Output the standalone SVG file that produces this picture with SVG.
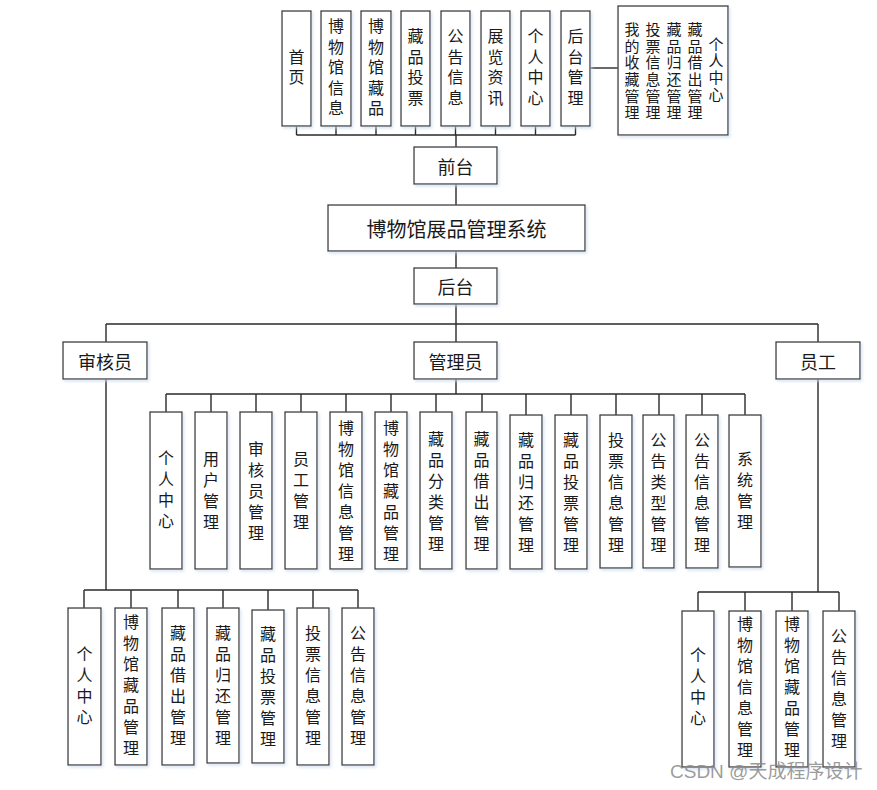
<svg xmlns="http://www.w3.org/2000/svg" width="877" height="790" viewBox="0 0 877 790">
<defs>
<filter id="sh" x="-20%" y="-10%" width="140%" height="120%">
<feDropShadow dx="1.5" dy="2" stdDeviation="1.5" flood-color="#c9d9ee" flood-opacity="0.7"/>
</filter>
<style>
.b{fill:#fff;stroke:#3c3c3c;stroke-width:1.3;filter:url(#sh)}
.t{font-family:"Noto Sans CJK SC","Liberation Sans",sans-serif;fill:#1a1a1a;text-anchor:middle;dominant-baseline:central}
.v{font-size:16px;writing-mode:vertical-rl;letter-spacing:5px}
.v2{font-size:16px;writing-mode:vertical-rl;letter-spacing:4.5px}
.s{font-size:15px;writing-mode:vertical-rl;letter-spacing:1.7px}
.h{font-size:18px}
.c{fill:none;stroke:#2a2a2a;stroke-width:1.4}
.wm{font-family:"Liberation Sans","Noto Sans CJK SC",sans-serif;font-size:19px;fill:#8a8a8a;fill-opacity:0.85}
</style>
</defs>
<rect width="877" height="790" fill="#fff"/>

<g id="connectors">
<path class="c" d="M296.5,126V135M336,126V135M376,126V135M415.5,126V135M455.5,126V135M495.5,126V135M535.5,126V135M575.5,126V135M296.5,135H575.5M456,135V147"/>
<path class="c" d="M590,68H618"/>
<path class="c" d="M456,184V205M456,251V268M456,304V342M106,324H818M106,324V342M818,324V342"/>
<path class="c" d="M456,379V394M166,394H745M166,394V412M211,394V412M256,394V412M301,394V412M346,394V412M391,394V412M436,394V412M482,394V412M526,394V415M571,394V415M616,394V415M659,394V415M702,394V415M745,394V415"/>
<path class="c" d="M106,379V590M84,590H358M84,590V608M131,590V608M178,590V608M223,590V608M268,590V610M313,590V608M358,590V608"/>
<path class="c" d="M818,379V592M698,592H839M698,592V611M745,592V611M792,592V611M839,592V611"/>
</g>

<!-- top row -->
<g id="n-shouye"><rect class="b" x="282" y="11" width="29" height="115"/><text class="t v2" x="296.5" y="69.2">首页</text></g>
<g id="n-bwgxx"><rect class="b" x="321" y="11" width="30" height="115"/><text class="t v2" x="336" y="69.2">博物馆信息</text></g>
<g id="n-bwgcp"><rect class="b" x="361" y="11" width="30" height="115"/><text class="t v2" x="376" y="69.2">博物馆藏品</text></g>
<g id="n-cptp"><rect class="b" x="401" y="11" width="29" height="115"/><text class="t v2" x="415.5" y="69.2">藏品投票</text></g>
<g id="n-ggxx"><rect class="b" x="441" y="11" width="29" height="115"/><text class="t v2" x="455.5" y="69.2">公告信息</text></g>
<g id="n-zlzx"><rect class="b" x="481" y="11" width="29" height="115"/><text class="t v2" x="495.5" y="69.2">展览资讯</text></g>
<g id="n-grzx"><rect class="b" x="521" y="11" width="29" height="115"/><text class="t v2" x="535.5" y="69.2">个人中心</text></g>
<g id="n-htgl"><rect class="b" x="561" y="11" width="29" height="115"/><text class="t v2" x="575.5" y="69.2">后台管理</text></g>

<g id="n-grzx-detail"><rect class="b" x="618" y="6" width="110" height="129"/>
<text class="t s" x="632" y="71.8">我的收藏管理</text>
<text class="t s" x="653" y="71.8">投票信息管理</text>
<text class="t s" x="674" y="71.8">藏品归还管理</text>
<text class="t s" x="695" y="71.8">藏品借出管理</text>
<text class="t s" x="716" y="69.8">个人中心</text>
</g>

<g id="n-qiantai"><rect class="b" x="414" y="147" width="83" height="37"/><text class="t h" x="455.5" y="165.5">前台</text></g>
<g id="n-system"><rect class="b" x="328" y="205" width="257" height="46"/><text class="t" style="font-size:20px" x="456.5" y="228">博物馆展品管理系统</text></g>
<g id="n-houtai"><rect class="b" x="414" y="268" width="83" height="36"/><text class="t h" x="455.5" y="286">后台</text></g>

<g id="n-shenheyuan"><rect class="b" x="63" y="342" width="84" height="37"/><text class="t h" x="105" y="360.5">审核员</text></g>
<g id="n-guanliyuan"><rect class="b" x="414" y="342" width="83" height="37"/><text class="t h" x="455.5" y="360.5">管理员</text></g>
<g id="n-yuangong"><rect class="b" x="776" y="342" width="84" height="37"/><text class="t h" x="818" y="360.5">员工</text></g>

<!-- admin row -->
<g id="a1"><rect class="b" x="150" y="412" width="32" height="157"/><text class="t v" x="166" y="492">个人中心</text></g>
<g id="a2"><rect class="b" x="195" y="412" width="32" height="157"/><text class="t v" x="211" y="493">用户管理</text></g>
<g id="a3"><rect class="b" x="240" y="412" width="32" height="157"/><text class="t v" x="256" y="493">审核员管理</text></g>
<g id="a4"><rect class="b" x="285" y="412" width="32" height="157"/><text class="t v" x="301" y="493">员工管理</text></g>
<g id="a5"><rect class="b" x="330" y="412" width="32" height="157"/><text class="t v" x="346" y="493.5">博物馆信息管理</text></g>
<g id="a6"><rect class="b" x="375" y="412" width="32" height="157"/><text class="t v" x="391" y="493.5">博物馆藏品管理</text></g>
<g id="a7"><rect class="b" x="420" y="412" width="32" height="157"/><text class="t v" x="436" y="493.5">藏品分类管理</text></g>
<g id="a8"><rect class="b" x="466" y="412" width="31" height="157"/><text class="t v" x="481.5" y="493.5">藏品借出管理</text></g>
<g id="a9"><rect class="b" x="510" y="415" width="32" height="154"/><text class="t v" x="526" y="495">藏品归还管理</text></g>
<g id="a10"><rect class="b" x="555" y="415" width="32" height="154"/><text class="t v" x="571" y="495">藏品投票管理</text></g>
<g id="a11"><rect class="b" x="600" y="415" width="32" height="153"/><text class="t v" x="616" y="495">投票信息管理</text></g>
<g id="a12"><rect class="b" x="643" y="415" width="31" height="153"/><text class="t v" x="658.5" y="495">公告类型管理</text></g>
<g id="a13"><rect class="b" x="686" y="415" width="32" height="153"/><text class="t v" x="702" y="495">公告信息管理</text></g>
<g id="a14"><rect class="b" x="729" y="415" width="32" height="152"/><text class="t v" x="745" y="493">系统管理</text></g>

<!-- reviewer group -->
<g id="r1"><rect class="b" x="68" y="608" width="33" height="157"/><text class="t v" x="84.5" y="688">个人中心</text></g>
<g id="r2"><rect class="b" x="115" y="608" width="32" height="157"/><text class="t v" x="131" y="687.5">博物馆藏品管理</text></g>
<g id="r3"><rect class="b" x="162" y="608" width="32" height="157"/><text class="t v" x="178" y="687.5">藏品借出管理</text></g>
<g id="r4"><rect class="b" x="207" y="608" width="32" height="155"/><text class="t v" x="223" y="687.5">藏品归还管理</text></g>
<g id="r5"><rect class="b" x="252" y="610" width="32" height="153"/><text class="t v" x="268" y="688.5">藏品投票管理</text></g>
<g id="r6"><rect class="b" x="297" y="608" width="32" height="157"/><text class="t v" x="313" y="688">投票信息管理</text></g>
<g id="r7"><rect class="b" x="342" y="608" width="32" height="157"/><text class="t v" x="358" y="688">公告信息管理</text></g>

<!-- staff group -->
<g id="s1"><rect class="b" x="682" y="611" width="32" height="156"/><text class="t v" x="698" y="689">个人中心</text></g>
<g id="s2"><rect class="b" x="729" y="611" width="32" height="156"/><text class="t v" x="745" y="689.5">博物馆信息管理</text></g>
<g id="s3"><rect class="b" x="776" y="611" width="32" height="156"/><text class="t v" x="792" y="689.5">博物馆藏品管理</text></g>
<g id="s4"><rect class="b" x="823" y="611" width="32" height="156"/><text class="t v" x="839" y="691">公告信息管理</text></g>

<text class="wm" x="670" y="778">CSDN @天成程序设计</text>
</svg>
